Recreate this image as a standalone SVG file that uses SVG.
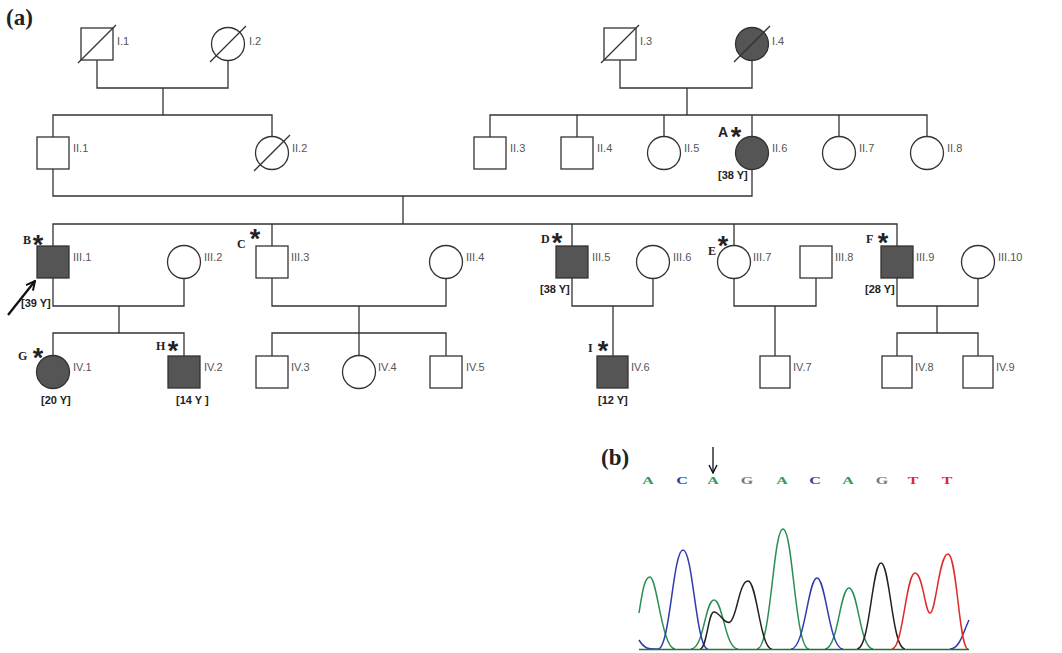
<svg xmlns="http://www.w3.org/2000/svg" width="1062" height="653" viewBox="0 0 1062 653">
<style>
.ln{stroke:#333;stroke-width:1.3;fill:none}
.m{fill:#fff;stroke:#333;stroke-width:1.3}
.a{fill:#555;stroke:#333;stroke-width:1.3}
.lb{font-family:"Liberation Sans",Arial,sans-serif;font-size:11px;fill:#555}
.age{font-family:"Liberation Sans",Arial,sans-serif;font-size:11px;font-weight:bold;fill:#222}
.ltr{font-family:"Liberation Serif","Times New Roman",serif;font-size:12px;font-weight:bold;fill:#222}
.ast{font-family:"Liberation Sans",Arial,sans-serif;font-size:27px;font-weight:bold;fill:#222}
.pn{font-family:"Liberation Serif","Times New Roman",serif;font-size:23px;font-weight:bold;fill:#222}
.sq{font-family:"Liberation Serif","Times New Roman",serif;font-size:10px;font-weight:bold}
.tr{fill:none;stroke-width:1.5}
</style>
<defs>
<marker id="ah" viewBox="0 0 10 10" refX="9" refY="5" markerWidth="11" markerHeight="11" orient="auto" markerUnits="userSpaceOnUse">
<path d="M1,1 L9,5 L1,9" fill="none" stroke="#111" stroke-width="1.8"/>
</marker>
<marker id="ah2" viewBox="0 0 10 10" refX="9" refY="5" markerWidth="10" markerHeight="10" orient="auto" markerUnits="userSpaceOnUse">
<path d="M1,1 L9,5 L1,9" fill="none" stroke="#111" stroke-width="1.4"/>
</marker>
</defs>
<rect width="1062" height="653" fill="#fff"/>
<text class="pn" x="6" y="25">(a)</text>
<text class="pn" x="601" y="465">(b)</text>

<g id="connectors">
<path class="ln" d="M97,60V88H228V60M163,88V115M53,137V115H272V137"/>
<path class="ln" d="M620,60V88H752V60M687,88V115M490,137V115H927V137M577,115V137M664,115V137M752,115V137M839,115V137"/>
<path class="ln" d="M53,169V196H752V169M403,196V224M53,246V224H897V246M272,224V246M572,224V246M734,224V246"/>
<path class="ln" d="M53,278V306H184V278M119,306V333M53,356V333H184V356"/>
<path class="ln" d="M272,278V306H446V278M359,306V356M272,356V333H446V356"/>
<path class="ln" d="M572,278V306H653V278M613,306V356"/>
<path class="ln" d="M734,278V306H816V278M775,306V356"/>
<path class="ln" d="M897,278V306H978V278M937,306V333M897,356V333H978V356"/>
<line x1="8" y1="315" x2="35" y2="281" stroke="#111" stroke-width="2.3" marker-end="url(#ah)"/>
</g>

<g id="I1"><rect class="m" x="81" y="28" width="32" height="32"/><line class="ln" x1="78" y1="63" x2="116" y2="25"/><text class="lb" x="117" y="45">I.1</text></g>
<g id="I2"><circle class="m" cx="228" cy="44" r="16.5"/><line class="ln" x1="210" y1="62" x2="246" y2="26"/><text class="lb" x="249" y="45">I.2</text></g>
<g id="I3"><rect class="m" x="604" y="28" width="32" height="32"/><line class="ln" x1="601" y1="63" x2="639" y2="25"/><text class="lb" x="640" y="45">I.3</text></g>
<g id="I4"><circle class="a" cx="752" cy="44" r="16.5"/><line class="ln" x1="734" y1="62" x2="770" y2="26"/><text class="lb" x="772" y="45">I.4</text></g>

<g id="II1"><rect class="m" x="37" y="137" width="32" height="32"/><text class="lb" x="73" y="152">II.1</text></g>
<g id="II2"><circle class="m" cx="272" cy="153" r="16.5"/><line class="ln" x1="254" y1="171" x2="290" y2="135"/><text class="lb" x="292" y="152">II.2</text></g>
<g id="II3"><rect class="m" x="474" y="137" width="32" height="32"/><text class="lb" x="510" y="152">II.3</text></g>
<g id="II4"><rect class="m" x="561" y="137" width="32" height="32"/><text class="lb" x="597" y="152">II.4</text></g>
<g id="II5"><circle class="m" cx="664" cy="153" r="16.5"/><text class="lb" x="684" y="152">II.5</text></g>
<g id="II6"><circle class="a" cx="752" cy="153" r="16.5"/><text class="lb" x="772" y="152">II.6</text>
<text x="718" y="137" font-family="Liberation Sans,Arial,sans-serif" font-size="14" font-weight="bold" fill="#222">A</text><text class="ast" x="736" y="146" text-anchor="middle">*</text>
<text class="age" x="718" y="179">[38 Y]</text></g>
<g id="II7"><circle class="m" cx="839" cy="153" r="16.5"/><text class="lb" x="859" y="152">II.7</text></g>
<g id="II8"><circle class="m" cx="927" cy="153" r="16.5"/><text class="lb" x="947" y="152">II.8</text></g>

<g id="III1"><rect class="a" x="37" y="246" width="32" height="32"/><text class="lb" x="73" y="261">III.1</text>
<text class="ltr" x="23" y="244">B</text><text class="ast" x="38" y="254" text-anchor="middle">*</text>
<text class="age" x="21" y="307">[39 Y]</text></g>
<g id="III2"><circle class="m" cx="184" cy="262" r="16.5"/><text class="lb" x="204" y="261">III.2</text></g>
<g id="III3"><rect class="m" x="256" y="246" width="32" height="32"/><text class="lb" x="291" y="261">III.3</text>
<text class="ltr" x="237" y="248">C</text><text class="ast" x="255" y="248" text-anchor="middle">*</text></g>
<g id="III4"><circle class="m" cx="446" cy="262" r="16.5"/><text class="lb" x="466" y="261">III.4</text></g>
<g id="III5"><rect class="a" x="556" y="246" width="32" height="32"/><text class="lb" x="592" y="261">III.5</text>
<text class="ltr" x="541" y="243">D</text><text class="ast" x="557" y="252" text-anchor="middle">*</text>
<text class="age" x="540" y="293">[38 Y]</text></g>
<g id="III6"><circle class="m" cx="653" cy="262" r="16.5"/><text class="lb" x="673" y="261">III.6</text></g>
<g id="III7"><circle class="m" cx="734" cy="262" r="16.5"/><text class="lb" x="753" y="261">III.7</text>
<text class="ltr" x="708" y="255">E</text><text class="ast" x="723" y="255" text-anchor="middle">*</text></g>
<g id="III8"><rect class="m" x="800" y="246" width="32" height="32"/><text class="lb" x="835" y="261">III.8</text></g>
<g id="III9"><rect class="a" x="881" y="246" width="32" height="32"/><text class="lb" x="916" y="261">III.9</text>
<text class="ltr" x="866" y="243">F</text><text class="ast" x="883" y="252" text-anchor="middle">*</text>
<text class="age" x="865" y="293">[28 Y]</text></g>
<g id="III10"><circle class="m" cx="978" cy="262" r="16.5"/><text class="lb" x="998" y="261">III.10</text></g>

<g id="IV1"><circle class="a" cx="53" cy="372" r="16.5"/><text class="lb" x="73" y="371">IV.1</text>
<text class="ltr" x="18" y="360">G</text><text class="ast" x="38" y="367" text-anchor="middle">*</text>
<text class="age" x="41" y="404">[20 Y]</text></g>
<g id="IV2"><rect class="a" x="168" y="356" width="32" height="32"/><text class="lb" x="204" y="371">IV.2</text>
<text class="ltr" x="156" y="350">H</text><text class="ast" x="173" y="360" text-anchor="middle">*</text>
<text class="age" x="176" y="404">[14 Y ]</text></g>
<g id="IV3"><rect class="m" x="256" y="356" width="32" height="32"/><text class="lb" x="291" y="371">IV.3</text></g>
<g id="IV4"><circle class="m" cx="359" cy="372" r="16.5"/><text class="lb" x="378" y="371">IV.4</text></g>
<g id="IV5"><rect class="m" x="430" y="356" width="32" height="32"/><text class="lb" x="466" y="371">IV.5</text></g>
<g id="IV6"><rect class="a" x="597" y="356" width="31" height="32"/><text class="lb" x="631" y="371">IV.6</text>
<text class="ltr" x="588" y="352">I</text><text class="ast" x="603" y="360" text-anchor="middle">*</text>
<text class="age" x="598" y="404">[12 Y]</text></g>
<g id="IV7"><rect class="m" x="760" y="356" width="30" height="32"/><text class="lb" x="793" y="371">IV.7</text></g>
<g id="IV8"><rect class="m" x="882" y="356" width="30" height="32"/><text class="lb" x="915" y="371">IV.8</text></g>
<g id="IV9"><rect class="m" x="963" y="356" width="30" height="32"/><text class="lb" x="996" y="371">IV.9</text></g>

<g id="sequence">
<line x1="713" y1="447" x2="713" y2="473" stroke="#111" stroke-width="1.3" marker-end="url(#ah2)"/>
<g class="sq" text-anchor="middle">
<text transform="translate(648,484) scale(1.6,1)" fill="#2e9a5c">A</text>
<text transform="translate(682,484) scale(1.6,1)" fill="#3a3aa8">C</text>
<text transform="translate(713,484) scale(1.6,1)" fill="#2e9a5c">A</text>
<text transform="translate(747,484) scale(1.6,1)" fill="#777">G</text>
<text transform="translate(782,484) scale(1.6,1)" fill="#2e9a5c">A</text>
<text transform="translate(815,484) scale(1.6,1)" fill="#3a3aa8">C</text>
<text transform="translate(848,484) scale(1.6,1)" fill="#2e9a5c">A</text>
<text transform="translate(882,484) scale(1.6,1)" fill="#777">G</text>
<text transform="translate(913,484) scale(1.6,1)" fill="#e82525">T</text>
<text transform="translate(947,484) scale(1.6,1)" fill="#e82525">T</text>
</g>
</g>

<g id="chromatogram">
<path class="tr" stroke="#2a8f55" d="M639,613 C642,595 644,577 650,577 C657,577 662,649 675,649 M691,649 C704,649 705,600 714,600 C723,600 725,649 738,649 M757,649 C771,649 773,529 783,529 C793,529 795,649 809,649 M825,649 C838,649 840,588 849,588 C858,588 860,649 873,649"/>
<path class="tr" stroke="#2f3cad" d="M639,640 C645,650 650,649 658,649 C670,649 673,550 683,550 C693,550 696,649 708,649 M791,649 C805,649 808,578 817,578 C826,578 829,649 843,649 M950,649 C960,649 964,630 969,620"/>
<path class="tr" stroke="#222" d="M700,649 C707,649 708,612 714,612 C720,612 724,625 730,622 C737,618 739,581 748,581 C757,581 760,649 772,649 M857,649 C870,649 872,563 881,563 C890,563 892,649 905,649"/>
<path class="tr" stroke="#e02a2a" d="M892,649 C903,649 906,573 915,573 C923,573 925,613 930,613 C936,613 939,554 948,554 C957,554 959,649 968,649"/>
<line x1="639" y1="649.5" x2="969" y2="649.5" stroke="#2a6a3a" stroke-width="1.6"/>
<line x1="639" y1="649.5" x2="780" y2="649.5" stroke="#c03030" stroke-width="0.8"/>
</g>
</svg>
